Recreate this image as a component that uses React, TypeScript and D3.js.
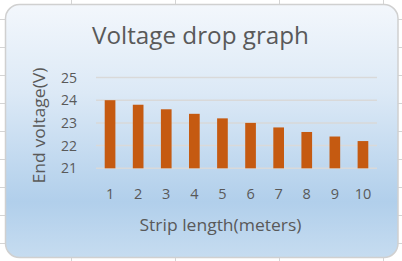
import React from "react";
import * as d3 from "d3";

const lengths = ["1", "2", "3", "4", "5", "6", "7", "8", "9", "10"];
const voltages = [24.0, 23.8, 23.6, 23.4, 23.2, 23.0, 22.8, 22.6, 22.4, 22.2];
const yTicks = [21, 22, 23, 24, 25];
const title = "Voltage drop graph";
const xTitle = "Strip length(meters)";
const yTitle = "End voltage(V)";

const W = 402;
const H = 261;
const FONT = "'Open Sans', 'Noto Sans', sans-serif";
const TEXT = "#595959";

export default function App() {
  const x = d3
    .scaleBand<string>()
    .domain(lengths)
    .range([96, 377])
    .paddingInner(0.62)
    .paddingOuter(0.31);
  const y = d3.scaleLinear().domain([21, 25]).range([168.3, 77.5]);

  const sheetCols = [71.5, 175.5, 279.5, 383.5];
  const sheetRows = d3.range(19, H, 28);

  return (
    <svg
      width={W}
      height={H}
      style={{ position: "absolute", left: 0, top: 0, background: "#fff" }}
    >
      <defs>
        <linearGradient id="bg" x1="0" y1="0" x2="0" y2="1">
          <stop offset="0" stopColor="#f3f7fc" />
          <stop offset="0.35" stopColor="#dce9f6" />
          <stop offset="0.78" stopColor="#b1cfeb" />
          <stop offset="1" stopColor="#c6dcf0" />
        </linearGradient>
      </defs>
      {sheetCols.map((c) => (
        <line key={"c" + c} x1={c} x2={c} y1={0} y2={H} stroke="#d4d4d4" strokeWidth={1} />
      ))}
      {sheetRows.map((r) => (
        <line key={"r" + r} x1={0} x2={W} y1={r + 0.5} y2={r + 0.5} stroke="#d4d4d4" strokeWidth={1} />
      ))}
      <rect
        x={5.5}
        y={4.5}
        width={392.5}
        height={253}
        rx={14}
        ry={14}
        fill="url(#bg)"
        stroke="#d0d0d0"
        strokeWidth={1.5}
      />
      <text
        x={200.5}
        y={43.5}
        textAnchor="middle"
        fontFamily={FONT}
        fontSize={23}
        fill={TEXT}
        textLength={217}
        lengthAdjust="spacingAndGlyphs"
      >
        {title}
      </text>
      {yTicks.map((t) => (
        <line
          key={"g" + t}
          x1={96}
          x2={377}
          y1={y(t)}
          y2={y(t)}
          stroke="#d9d9d9"
          strokeWidth={1.5}
        />
      ))}
      {yTicks.map((t) => (
        <text
          key={"yt" + t}
          x={77}
          y={y(t)}
          dy="0.36em"
          textAnchor="end"
          fontFamily={FONT}
          fontSize={14}
          fill={TEXT}
        >
          {t}
        </text>
      ))}
      {lengths.map((l, i) => (
        <rect
          key={"b" + l}
          x={x(l)}
          width={x.bandwidth()}
          y={y(voltages[i])}
          height={y(21) - y(voltages[i])}
          fill="#c55a11"
        />
      ))}
      {lengths.map((l) => (
        <text
          key={"xt" + l}
          x={(x(l) as number) + x.bandwidth() / 2}
          y={198.5}
          textAnchor="middle"
          fontFamily={FONT}
          fontSize={14.5}
          fill={TEXT}
        >
          {l}
        </text>
      ))}
      <text
        x={220.5}
        y={231}
        textAnchor="middle"
        fontFamily={FONT}
        fontSize={16}
        fill={TEXT}
        textLength={162}
        lengthAdjust="spacingAndGlyphs"
      >
        {xTitle}
      </text>
      <text
        transform={`translate(44.5,125.5) rotate(-90)`}
        textAnchor="middle"
        fontFamily={FONT}
        fontSize={16}
        fill={TEXT}
        textLength={116}
        lengthAdjust="spacingAndGlyphs"
      >
        {yTitle}
      </text>
    </svg>
  );
}
